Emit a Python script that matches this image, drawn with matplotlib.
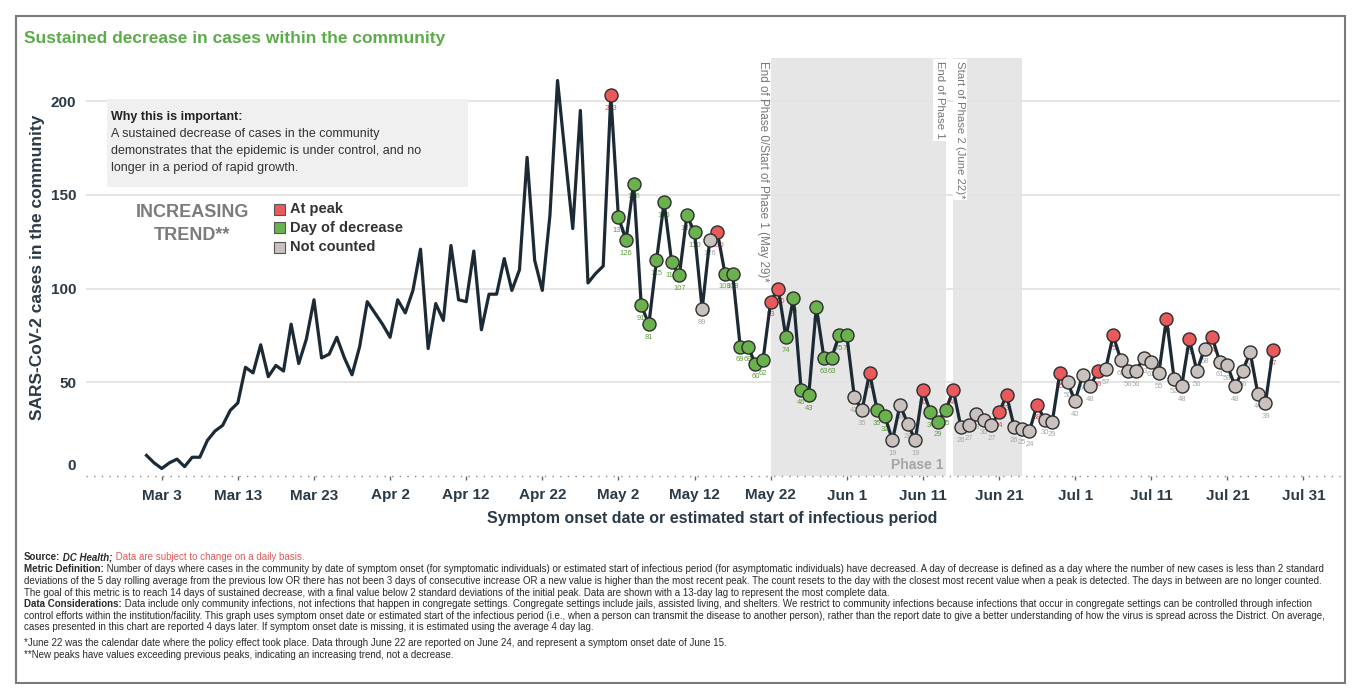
import numpy as np
import pandas as pd
import matplotlib
matplotlib.use("Agg")
import matplotlib.pyplot as plt
import matplotlib.dates as mdates
from matplotlib.patches import Rectangle
from matplotlib.transforms import ScaledTranslation, blended_transform_factory

plt.rcParams['font.family'] = ['Liberation Sans', 'DejaVu Sans']

# --- data ---
dates = pd.date_range("2020-03-01", "2020-07-27", freq="D")

mar = [11, 7, 4, 7, 9, 5, 10, 10, 19, 24,
       27, 35, 39, 58, 55, 70, 53, 59, 56, 81,
       60, 73, 94, 63, 65, 74, 63, 54, 69, 93, 87]
apr = [81, 74, 94, 87, 99, 121, 68, 92, 83, 123,
       94, 93, 120, 78, 97, 97, 116, 99, 110, 170,
       115, 99, 139, 211, 171, 132, 195, 103, 108, 112]
may = [203, 138, 126, 156, 91, 81, 115, 146, 114, 107,
       139, 130, 89, 126, 130, 108, 108, 69, 69, 60,
       62, 93, 100, 74, 95, 46, 43, 90, 63, 63, 75]
jun = [75, 42, 35, 55, 35, 32, 19, 38, 28, 19,
       46, 34, 29, 35, 46, 26, 27, 33, 30, 27,
       34, 43, 26, 25, 24, 38, 30, 29, 55, 50]
jul = [40, 54, 48, 56, 57, 75, 62, 56, 56, 63,
       61, 55, 84, 52, 48, 73, 56, 68, 74, 61,
       59, 48, 56, 66, 44, 39, 67]
cases = np.array(mar + apr + may + jun + jul)

# P = at peak, D = day of decrease, N = not counted, . = no marker
status = ("." * 61
          + "PDDDDDDDDD" + "DDNNPDDDDD" + "DPPDDDDDDD" + "D"
          + "DNNPDDNNNN" + "PDDDPNNNNN" + "PPNNNPNNPN"
          + "NNNPNPNNNN" + "NNPNNPNNPN" + "NNNNNNP")
status = np.array(list(status))

legend_names = {"P": "At peak", "D": "Day of decrease", "N": "Not counted"}
marker_colors = {"P": "#e85a5c", "D": "#6ab24d", "N": "#c9c1bd"}
label_colors = {"P": "#e05050", "D": "#5f9f3f", "N": "#a8a8a8"}

tick_dates = pd.date_range("2020-03-03", "2020-07-31", freq="10D")
band1 = ("2020-05-22", "2020-06-14")
band2 = ("2020-06-15", "2020-06-24")

DARK = "#2b3a47"
LINE = "#1b2a35"

W, H = 1358, 698


def fx(px):
    return px / W


def fy(py):
    return 1 - py / H


fig = plt.figure(figsize=(W / 100, H / 100), dpi=100)
ax = fig.add_axes([fx(86), fy(476), fx(1340) - fx(86), (476 - 58) / H])

# shaded phases
for a, b in (band1, band2):
    ax.axvspan(pd.Timestamp(a), pd.Timestamp(b), color="#e6e6e6", lw=0, zorder=0)

ax.plot(dates, cases, color=LINE, lw=2.3, zorder=3)

for key in ("P", "D", "N"):
    m = status == key
    ax.scatter(dates[m], cases[m], s=88, color=marker_colors[key],
               edgecolor="#2e2e2e", linewidth=1, zorder=4)
    for d, v in zip(dates[m], cases[m]):
        ax.annotate(str(v), (d, v), xytext=(0, -7), textcoords="offset points",
                    ha="center", va="top", fontsize=5.5,
                    color=label_colors[key], zorder=2.5)

# axes styling
ax.set_ylim(0, 223)
ax.set_xlim(pd.Timestamp("2020-03-03") - pd.Timedelta(days=9.95),
            pd.Timestamp("2020-03-03") + pd.Timedelta(days=154.8))
ax.set_yticks([0, 50, 100, 150, 200])
ax.set_xticks(tick_dates)
ax.set_xticklabels([f"{d:%b} {d.day}" for d in tick_dates])
for s in ax.spines.values():
    s.set_visible(False)
ax.set_axisbelow(True)
ax.yaxis.grid(True, color="#e3e3e3", lw=1.3)
ax.get_ygridlines()[0].set_visible(False)
ax.axhline(0, color="#8a8a8a", lw=1, ls=(0, (1, 4.5)), zorder=1.5, clip_on=False)
ax.tick_params(axis="y", length=0, pad=7, labelsize=11, labelcolor=DARK)
ax.tick_params(axis="x", length=3, width=1, color="#666", pad=6,
               labelsize=11, labelcolor=DARK)
for lbl in ax.get_xticklabels() + ax.get_yticklabels():
    lbl.set_fontweight("bold")
zero_lbl = ax.get_yticklabels()[0]
zero_lbl.set_transform(zero_lbl.get_transform()
                       + ScaledTranslation(0, 0.12, fig.dpi_scale_trans))

# phase labels
trans = blended_transform_factory(ax.transData, ax.transAxes)
ax.text(mdates.date2num(pd.Timestamp("2020-05-21")), 0.993,
        "End of Phase 0/Start of Phase 1 (May 29)*", rotation=270,
        ha="center", va="top", fontsize=8.4, color="#777", transform=trans)
ax.text(mdates.date2num(pd.Timestamp("2020-06-14")) - 0.7, 0.993,
        "End of Phase 1", rotation=270, ha="center", va="top", fontsize=8.2,
        color="#777", transform=trans,
        bbox=dict(fc="white", ec="none", pad=1.5))
ax.text(mdates.date2num(pd.Timestamp("2020-06-15")) + 0.9, 0.993,
        "Start of Phase 2 (June 22)*", rotation=270, ha="center", va="top",
        fontsize=8.2, color="#777", transform=trans,
        bbox=dict(fc="white", ec="none", pad=1.5))
ax.text(mdates.date2num(pd.Timestamp("2020-06-14")) - 0.3, 6, "Phase 1",
        ha="right", va="center", fontsize=10, fontweight="bold", color="#a5a5a5")

# frame and title
fig.add_artist(Rectangle((fx(16), fy(683)), (1345 - 16) / W, (683 - 16) / H,
                         transform=fig.transFigure, fill=False,
                         ec="#7a7a7a", lw=1.5))
fig.text(fx(24), fy(38), "Sustained decrease in cases within the community",
         color="#5cac4a", fontsize=12.5, fontweight="bold", va="center")

fig.text(fx(38), fy(267), "SARS-CoV-2 cases in the community", rotation=90,
         ha="center", va="center", fontsize=12.5, fontweight="bold", color=DARK)
fig.text(fx(712), fy(518),
         "Symptom onset date or estimated start of infectious period",
         ha="center", va="center", fontsize=11.5, fontweight="bold", color=DARK)

# info box
fig.add_artist(Rectangle((fx(107), fy(187)), (468 - 107) / W, (187 - 99) / H,
                         transform=fig.transFigure, color="#f0f0f0", lw=0))
fig.text(fx(111), fy(117), "Why this is important:", fontsize=9,
         fontweight="bold", color="#222", va="center")
info = ["A sustained decrease of cases in the community",
        "demonstrates that the epidemic is under control, and no",
        "longer in a period of rapid growth."]
for i, line in enumerate(info):
    fig.text(fx(111), fy(134 + 17 * i), line, fontsize=9, color="#333", va="center")

fig.text(fx(192), fy(213), "INCREASING", ha="center", va="center",
         fontsize=13, fontweight="bold", color="#7b7b7b")
fig.text(fx(192), fy(235), "TREND**", ha="center", va="center",
         fontsize=13, fontweight="bold", color="#7b7b7b")

# legend
for i, key in enumerate(("P", "D", "N")):
    cy = 209 + 19 * i
    fig.add_artist(Rectangle((fx(274), fy(cy + 5.5)), 11 / W, 11 / H,
                             transform=fig.transFigure,
                             fc=marker_colors[key], ec="#555", lw=0.8))
    fig.text(fx(290.5), fy(cy), legend_names[key], fontsize=10.5,
             fontweight="bold", color="#333", va="center")

# footer notes
footer = [
    [("Source:", dict(fontweight="bold")),
     (" DC Health;", dict(fontweight="bold", style="italic")),
     (" Data are subject to change on a daily basis.", dict(color="#e05a5a"))],
    [("Metric Definition:", dict(fontweight="bold")),
     (" Number of days where cases in the community by date of symptom onset (for symptomatic individuals) or estimated start of infectious period (for asymptomatic individuals) have decreased. A day of decrease is defined as a day where the number of new cases is less than 2 standard", {})],
    [("deviations of the 5 day rolling average from the previous low OR there has not been 3 days of consecutive increase OR a new value is higher than the most recent peak. The count resets to the day with the closest most recent value when a peak is detected. The days in between are no longer counted.", {})],
    [("The goal of this metric is to reach 14 days of sustained decrease, with a final value below 2 standard deviations of the initial peak. Data are shown with a 13-day lag to represent the most complete data.", {})],
    [("Data Considerations:", dict(fontweight="bold")),
     (" Data include only community infections, not infections that happen in congregate settings. Congregate settings include jails, assisted living, and shelters. We restrict to community infections because infections that occur in congregate settings can be controlled through infection", {})],
    [("control efforts within the institution/facility. This graph uses symptom onset date or estimated start of the infectious period (i.e., when a person can transmit the disease to another person), rather than the report date to give a better understanding of how the virus is spread across the District. On average,", {})],
    [("cases presented in this chart are reported 4 days later. If symptom onset date is missing, it is estimated using the average 4 day lag.", {})],
    [("*June 22 was the calendar date where the policy effect took place. Data through June 22 are reported on June 24, and represent a symptom onset date of June 15.", {})],
    [("**New peaks have values exceeding previous peaks, indicating an increasing trend, not a decrease.", {})],
]
footer_y = [560, 572, 584, 595.5, 607, 619, 630.5, 646, 658]

renderer = fig.canvas.get_renderer()
for parts, py in zip(footer, footer_y):
    x = fx(24)
    for txt, style in parts:
        style = dict(style)
        style.setdefault("color", "#2a2a2a")
        t = fig.text(x, fy(py), txt, fontsize=7.0, va="baseline", **style)
        x = t.get_window_extent(renderer).x1 / W

fig.savefig("out.png", dpi=100)
